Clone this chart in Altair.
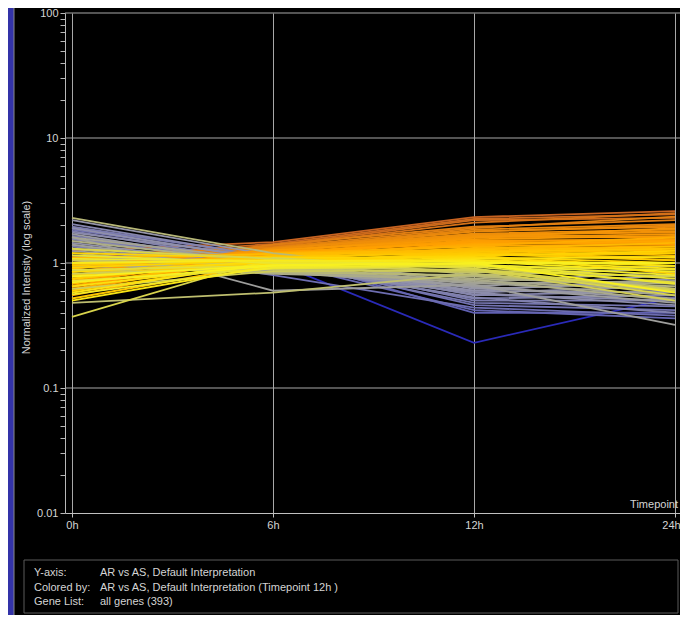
import math
import altair as alt
import pandas as pd

# ---------------- data ----------------
timepoints = ["0h", "6h", "12h", "24h"]

h0 = [1.25, 1.1, 1.0, 0.95, 0.9, 1.05, 0.85, 0.8, 0.75, 0.9,
      0.7, 0.8, 0.65, 0.95, 0.72, 0.6, 0.85, 1.0, 0.64, 0.78,
      1.12, 0.55, 0.7, 0.62, 0.9, 0.58, 0.8, 1.1, 0.68, 0.52,
      0.95, 0.75, 0.6, 1.2, 0.85, 0.65, 0.5, 1.0, 0.78, 0.56,
      1.15, 0.72, 0.88, 0.37, 1.3, 0.82, 0.62, 1.05, 0.48, 0.66,
      0.74, 0.92, 0.58, 0.8, 0.98, 0.7, 1.08, 0.86, 2.3, 2.2,
      2.05, 1.95, 1.9, 1.85, 1.8, 1.75, 1.7, 1.65, 1.6, 1.55,
      1.5, 1.45, 1.4, 1.35, 1.3, 1.25, 1.2, 1.15, 1.1, 1.05,
      1.62, 1.0, 0.95, 1.4, 1.58, 1.9, 1.55]

h6 = [1.47, 1.42, 1.38, 1.35, 1.4, 1.3, 1.32, 1.28, 1.25, 1.3,
      1.22, 1.25, 1.18, 1.27, 1.2, 1.15, 1.2, 1.22, 1.16, 1.24,
      1.34, 1.1, 1.15, 1.12, 1.2, 1.05, 1.15, 1.18, 1.08, 1.0,
      1.12, 1.05, 1.0, 1.1, 1.02, 0.98, 0.95, 1.05, 0.96, 0.92,
      1.0, 0.9, 0.95, 1.1, 1.08, 0.92, 0.86, 0.98, 0.58, 1.1,
      1.14, 1.06, 1.02, 1.0, 1.1, 0.95, 1.04, 0.9, 1.2, 1.15,
      1.1, 1.12, 1.05, 1.08, 1.0, 1.1, 0.95, 1.02, 1.05, 0.98,
      1.0, 0.94, 0.92, 0.97, 0.9, 0.93, 0.88, 0.9, 0.86, 0.84,
      0.6, 0.82, 0.85, 0.8, 1.02, 1.15, 1.02]

h12 = [2.33, 2.25, 2.2, 2.1, 1.95, 1.85, 1.8, 1.78, 1.72, 1.7,
       1.65, 1.62, 1.6, 1.55, 1.52, 1.5, 1.48, 1.45, 1.6, 1.68,
       1.9, 1.42, 1.4, 1.38, 1.35, 1.32, 1.3, 1.28, 1.25, 1.22,
       1.2, 1.18, 1.15, 1.12, 1.1, 1.08, 1.05, 1.03, 1.0, 0.98,
       0.96, 0.95, 0.93, 0.9, 0.9, 0.88, 0.87, 0.86, 0.82, 1.45,
       1.26, 1.14, 1.06, 1.16, 1.24, 1.0, 0.97, 0.84, 0.8, 0.62,
       0.55, 0.5, 0.6, 0.46, 0.52, 0.58, 0.65, 0.48, 0.7, 0.56,
       0.75, 0.6, 0.68, 0.53, 0.72, 0.64, 0.78, 0.58, 0.7, 0.8,
       0.67, 0.74, 0.66, 0.44, 0.42, 0.4, 0.23]

h24 = [2.6, 2.45, 2.3, 2.5, 2.2, 2.05, 1.95, 2.0, 1.85, 1.75,
       1.8, 1.6, 1.7, 1.65, 1.5, 1.55, 1.45, 1.4, 1.9, 1.62,
       2.35, 1.5, 1.35, 1.6, 1.3, 1.25, 1.45, 1.2, 1.15, 1.3,
       1.1, 1.05, 1.2, 1.0, 0.95, 1.12, 0.9, 0.85, 1.0, 0.8,
       0.75, 0.88, 0.7, 0.6, 0.55, 0.5, 0.78, 0.62, 0.6, 1.4,
       1.35, 1.25, 0.95, 0.82, 1.05, 0.58, 0.68, 0.95, 0.9, 0.7,
       0.6, 0.5, 0.75, 0.42, 0.55, 0.65, 0.8, 0.45, 0.85, 0.5,
       0.68, 0.58, 0.72, 0.4, 0.6, 0.52, 0.65, 0.46, 0.55, 0.62,
       0.32, 0.5, 0.48, 0.38, 0.36, 0.4, 0.53]

y_ticks = [0.01, 0.02, 0.03, 0.04, 0.05, 0.06, 0.07, 0.08, 0.09,
           0.1, 0.2, 0.3, 0.4, 0.5, 0.6, 0.7, 0.8, 0.9,
           1, 2, 3, 4, 5, 6, 7, 8, 9,
           10, 20, 30, 40, 50, 60, 70, 80, 90, 100]
grid_values = [0.1, 1, 10, 100]

legend_keys = ["Y-axis:", "Colored by:", "Gene List:"]
legend_vals = ["AR vs AS, Default Interpretation",
               "AR vs AS, Default Interpretation (Timepoint 12h )",
               "all genes (393)"]

color_stops = [0.23, 0.45, 0.62, 0.8, 1.0, 1.15, 1.45, 2.3]
color_range = ["#2a2ab8", "#7070b0", "#9494aa", "#b8b878", "#f8f020", "#ffd000", "#ffa000", "#c86420"]

# --------------- table ----------------
# draw the extreme genes first so the yellow (near 1) genes lie on top
order = sorted(range(len(h0)), key=lambda i: -abs(math.log(h12[i])))
rows = []
for rank, i in enumerate(order):
    for t, (tp, v) in enumerate(zip(timepoints, (h0[i], h6[i], h12[i], h24[i]))):
        rows.append({"gene": rank, "timepoint": tp, "tidx": t, "value": v, "v12": h12[i]})
df = pd.DataFrame(rows)

W, H = 615, 500
FONT = "Liberation Sans"
TXT = "#d4d4d4"

yscale = alt.Scale(type="log", domain=[0.01, 100])
yaxis = alt.Axis(values=y_ticks,
                 labelExpr="indexof([0.01,0.1,1,10,100], datum.value) >= 0 ? format(datum.value, '~g') : ''",
                 labelOverlap=False, grid=False, tickSize=5, labelPadding=2,
                 domainColor="#b8b8b8", tickColor="#b8b8b8", labelColor=TXT,
                 labelFont=FONT, labelFontSize=11,
                 title="Normalized Intensity (log scale)", titleFont=FONT, titleFontSize=11,
                 titleFontWeight="normal", titleColor=TXT, titleAngle=270,
                 titleX=-39, titleY=264, titleAlign="center", titleBaseline="middle")
xscale = alt.Scale(domain=timepoints, padding=0.02985, align=0.583)
xaxis = alt.Axis(labelAngle=0, title=None, grid=True, gridColor="#a8a8a8",
                 domainColor="#c0c0c0", tickColor="#c0c0c0", tickSize=4, labelPadding=2,
                 labelColor=TXT, labelFont=FONT, labelFontSize=11,
                 labelOffset={"condition": {"test": "datum.value === '24h'", "value": -4},
                              "value": 0})

one = pd.DataFrame({"k": [0]})

strip = alt.Chart(one).mark_rect(color="#3333a8").encode(
    x=alt.value(-57), x2=alt.value(-51), y=alt.value(-5), y2=alt.value(602))
border = alt.Chart(one).mark_rule(color="#8a8a8a").encode(
    x=alt.value(-51), y=alt.value(-5), y2=alt.value(602))

grid = alt.Chart(pd.DataFrame({"value": grid_values})).mark_rule(color="#a8a8a8").encode(
    y=alt.Y("value:Q", scale=yscale, axis=yaxis), x=alt.value(0), x2=alt.value(W))

lines = alt.Chart(df).mark_line(strokeWidth=1.8).encode(
    x=alt.X("timepoint:O", sort=timepoints, scale=xscale, axis=xaxis),
    y=alt.Y("value:Q", scale=yscale, axis=yaxis),
    detail="gene:N",
    order=alt.Order("tidx:Q"),
    color=alt.Color("v12:Q", scale=alt.Scale(domain=color_stops, range=color_range,
                                             interpolate="rgb"), legend=None),
)

tp_label = alt.Chart(one).mark_text(text="Timepoint", align="right", baseline="bottom",
                                    font=FONT, fontSize=11, color=TXT).encode(
    x=alt.value(613), y=alt.value(497))

box = alt.Chart(one).mark_rect(fill="black", stroke="#5a5a5a", strokeWidth=1).encode(
    x=alt.value(-41), x2=alt.value(613), y=alt.value(547), y2=alt.value(600))

layers = [strip, border, grid, lines, tp_label, box]
for j, (k, v) in enumerate(zip(legend_keys, legend_vals)):
    yy = [559.5, 575, 589][j]
    layers.append(alt.Chart(one).mark_text(text=k, align="left", baseline="middle",
                                           font=FONT, fontSize=11, color=TXT).encode(
        x=alt.value(-31), y=alt.value(yy)))
    layers.append(alt.Chart(one).mark_text(text=v, align="left", baseline="middle",
                                           font=FONT, fontSize=11, color=TXT).encode(
        x=alt.value(35), y=alt.value(yy)))

chart = alt.layer(*layers).properties(
    width=W, height=H,
    autosize=alt.AutoSizeParams(type="none"),
    padding={"left": 57, "top": 5, "right": 0, "bottom": 102},
    background="black",
).configure_view(stroke=None)

chart.save("out.html", embed_options={"renderer": "svg", "actions": False})
